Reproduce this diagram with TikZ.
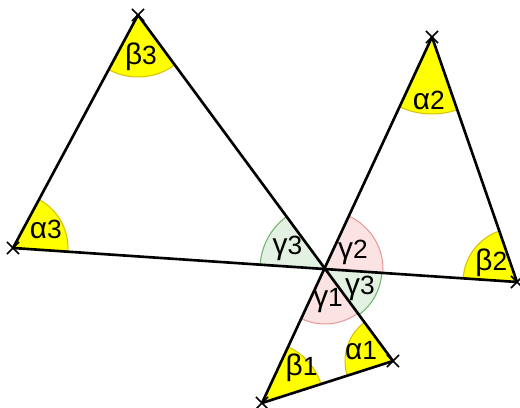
\documentclass[tikz,border=0pt]{standalone}
\usepackage{fontspec}
\setmainfont{Liberation Sans}
\usetikzlibrary{angles,shapes.misc}
\definecolor{angyellow}{HTML}{FFFF00}
\definecolor{angyellowline}{HTML}{D8C200}
\definecolor{anggreen}{HTML}{E3F1E3}
\definecolor{anggreenline}{HTML}{72B472}
\definecolor{angpink}{HTML}{FCE3E3}
\definecolor{angpinkline}{HTML}{E89A9A}
\newcommand\anglbl[2]{{\fontsize{17}{19}\selectfont #1}{\fontsize{15}{17}\selectfont #2}}

\begin{document}
\begin{tikzpicture}[x=0.02cm,y=0.02cm,
		side/.style={line width=1.5pt},
		tick/.style={cross out,draw,line width=0.9pt,minimum size=6pt,inner sep=0pt},
		yel/.style={draw=angyellowline,fill=angyellow,line width=0.6pt},
		grn/.style={draw=anggreenline,fill=anggreen,line width=0.6pt},
		pnk/.style={draw=angpinkline,fill=angpink,line width=0.6pt}]
	\useasboundingbox (0,0) rectangle (520,408);
	% vertices
	\coordinate (C) at (325,139);
	\coordinate (B3) at (138,393);
	\coordinate (A3) at (13,160);
	\coordinate (A2) at (432,371);
	\coordinate (B2) at (517,126);
	\coordinate (B1) at (262,5);
	\coordinate (A1) at (393,47);
	% angles at the crossing
	\pic[grn,angle radius=1.3cm,angle eccentricity=0.66,pic text=\anglbl{γ}{3}] {angle=B3--C--A3};
	\pic[pnk,angle radius=1.16cm,angle eccentricity=0.56,pic text=\anglbl{γ}{2}] {angle=B2--C--A2};
	\pic[pnk,angle radius=1.1cm,angle eccentricity=0.57,pic text=\anglbl{γ}{1}] {angle=B1--C--A1};
	\pic[grn,angle radius=1.14cm,angle eccentricity=0.7,pic text=\anglbl{γ}{3}] {angle=A1--C--B2};
	% angles of the triangles
	\pic[yel,angle radius=1.1cm,angle eccentricity=0.68,pic text=\anglbl{α}{3}] {angle=C--A3--B3};
	\pic[yel,angle radius=1.24cm,angle eccentricity=0.67,pic text=\anglbl{β}{3}] {angle=A3--B3--C};
	\pic[yel,angle radius=1.54cm,angle eccentricity=0.82,pic text=\anglbl{α}{2}] {angle=C--A2--B2};
	\pic[yel,angle radius=1.08cm,angle eccentricity=0.6,pic text=\anglbl{β}{2}] {angle=A2--B2--C};
	\pic[yel,angle radius=1.24cm,angle eccentricity=0.85,pic text=\anglbl{β}{1}] {angle=A1--B1--C};
	\pic[yel,angle radius=0.96cm,angle eccentricity=0.7,pic text=\anglbl{α}{1}] {angle=C--A1--B1};
	% sides
	\draw[side] (A3) -- (B2);
	\draw[side] (B3) -- (A1);
	\draw[side] (A2) -- (B1);
	\draw[side] (A3) -- (B3);
	\draw[side] (A2) -- (B2);
	\draw[side] (B1) -- (A1);
	\foreach \p in {A1,B1,A2,B2,A3,B3}
		\node[tick] (x\p) at (\p) {};
\end{tikzpicture}
\end{document}
